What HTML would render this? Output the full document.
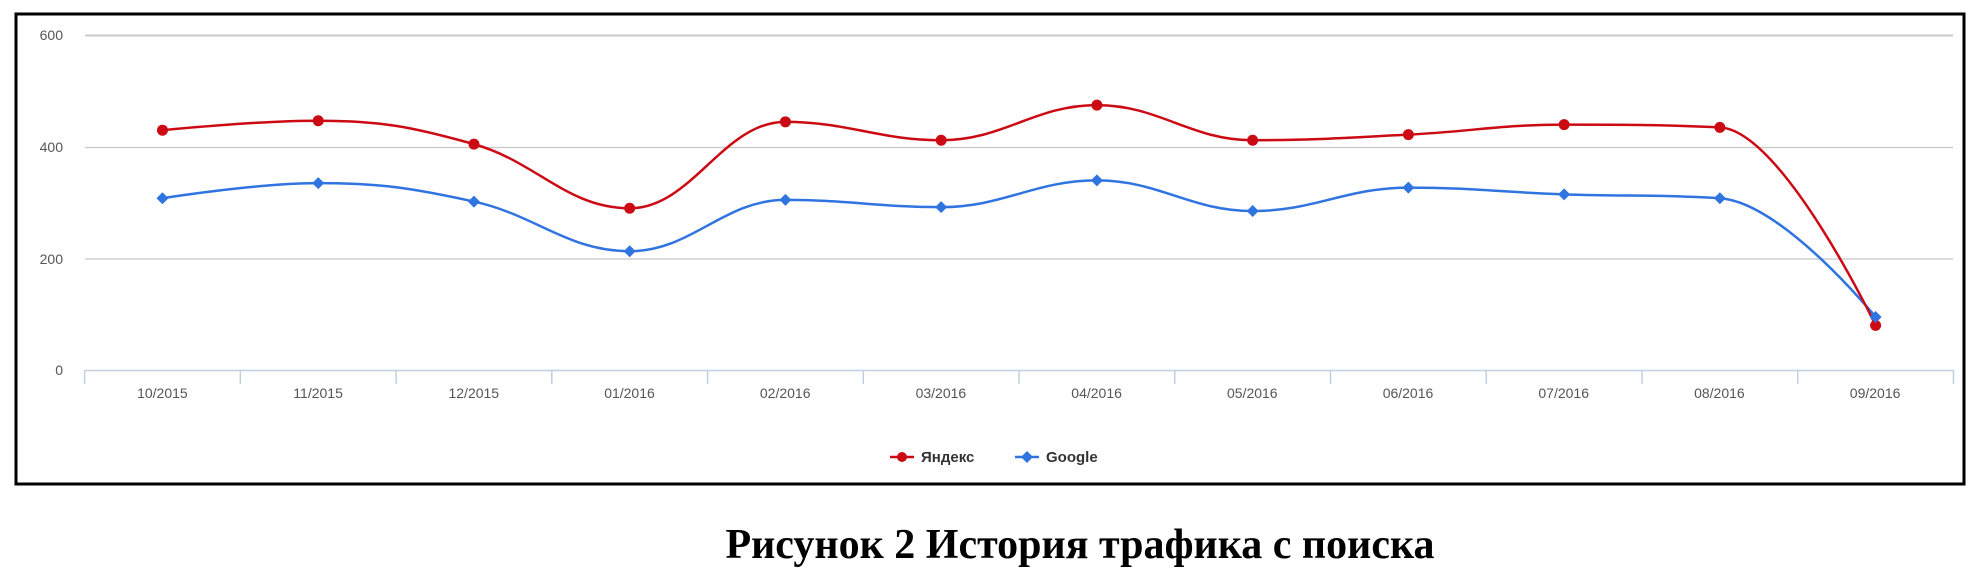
<!DOCTYPE html>
<html><head><meta charset="utf-8"><style>
html,body{margin:0;padding:0;background:#fff;width:1980px;height:575px;overflow:hidden}
svg{display:block}
</style></head><body>
<svg width="1980" height="575" xmlns="http://www.w3.org/2000/svg">
<rect x="16" y="14" width="1948" height="470" fill="#fff" stroke="#000" stroke-width="3"/>
<g stroke="#c8c8c8" stroke-width="1.3">
<line x1="85" y1="35.5" x2="1953" y2="35.5" stroke-width="2"/>
<line x1="85" y1="147.5" x2="1953" y2="147.5"/>
<line x1="85" y1="259" x2="1953" y2="259"/>
</g>
<line x1="85" y1="370.5" x2="1953" y2="370.5" stroke="#c0d0e0" stroke-width="1.5"/>
<g id="ticks" stroke="#c0d0e0" stroke-width="1.5"></g>
<g font-family="Liberation Sans, DejaVu Sans, sans-serif" font-size="14" fill="#555" text-anchor="end">
<text x="63" y="40">600</text><text x="63" y="152">400</text><text x="63" y="264">200</text><text x="63" y="375">0</text>
</g>
<g font-family="Liberation Sans, DejaVu Sans, sans-serif" font-size="14" fill="#555" text-anchor="middle" id="xl">
<text x="162.4" y="398">10/2015</text><text x="318.1" y="398">11/2015</text><text x="473.8" y="398">12/2015</text><text x="629.5" y="398">01/2016</text><text x="785.2" y="398">02/2016</text><text x="940.9" y="398">03/2016</text><text x="1096.6" y="398">04/2016</text><text x="1252.3" y="398">05/2016</text><text x="1408" y="398">06/2016</text><text x="1563.7" y="398">07/2016</text><text x="1719.4" y="398">08/2016</text><text x="1875.1" y="398">09/2016</text>
</g>
<path id="pg" fill="none" stroke="#2f74e0" stroke-width="2.5"/>
<path id="py" fill="none" stroke="#cc0a14" stroke-width="2.5"/>
<g id="mk"></g>
<g font-family="Liberation Sans, DejaVu Sans, sans-serif" font-size="15" font-weight="bold" fill="#333">
<line x1="890" y1="457" x2="914" y2="457" stroke="#cc0a14" stroke-width="2.5"/><circle cx="902" cy="457" r="5" fill="#cc0a14"/>
<text x="921" y="462">Яндекс</text>
<line x1="1015" y1="457" x2="1039" y2="457" stroke="#2f74e0" stroke-width="2.5"/><path d="M1027 451 L1033 457 L1027 463 L1021 457Z" fill="#2f74e0"/>
<text x="1046" y="462">Google</text>
</g>
<text x="1080" y="558" text-anchor="middle" font-family="Liberation Serif, serif" font-weight="bold" font-size="42" fill="#000">Рисунок 2 История трафика с поиска</text>
</svg>
<script>
var L=84.6,W=155.74,y0=370,k=0.5577;
var Y=[430,447,405,290,445,412,475,412,422,440,435,80],G=[308,335,302,213,305,292,340,285,327,315,308,95];
function pts(a){return a.map(function(v,i){return [L+W*(i+.5),y0-v*k]});}
function sp(p){var d="M"+p[0][0]+" "+p[0][1],s=1.5,t=s+1;
for(var i=0;i<p.length-1;i++){var a=p[i-1]||p[i],b=p[i],c=p[i+1],e=p[i+2]||c;
function ctl(pr,cu,nx){var lx=(s*cu[0]+pr[0])/t,ly=(s*cu[1]+pr[1])/t,rx=(s*cu[0]+nx[0])/t,ry=(s*cu[1]+nx[1])/t;
var cor=0;if(rx!==lx)cor=((ry-ly)*(rx-cu[0]))/(rx-lx)+cu[1]-ry;ly+=cor;ry+=cor;
if(ly>cu[1]&&ly>pr[1]){ly=Math.max(cu[1],pr[1]);ry=2*cu[1]-ly}else if(ly<cu[1]&&ly<pr[1]){ly=Math.min(cu[1],pr[1]);ry=2*cu[1]-ly}
if(ry>cu[1]&&ry>nx[1]){ry=Math.max(cu[1],nx[1]);ly=2*cu[1]-ry}else if(ry<cu[1]&&ry<nx[1]){ry=Math.min(cu[1],nx[1]);ly=2*cu[1]-ry}
return [lx,ly,rx,ry];}
var c1=(i==0)?[b[0],b[1],b[0],b[1]]:ctl(a,b,c),c2=(i==p.length-2)?[c[0],c[1]]:ctl(b,c,e);
d+=" C"+c1[2]+" "+c1[3]+" "+c2[0]+" "+c2[1]+" "+c[0]+" "+c[1];}
return d;}
var py=pts(Y),pg=pts(G);
document.getElementById("py").setAttribute("d",sp(py));
document.getElementById("pg").setAttribute("d",sp(pg));
var m="";py.forEach(function(p){m+='<circle cx="'+p[0]+'" cy="'+p[1]+'" r="5.5" fill="#cc0a14"/>';});
pg.forEach(function(p){m+='<path d="M'+p[0]+' '+(p[1]-6)+' L'+(p[0]+6)+' '+p[1]+' L'+p[0]+' '+(p[1]+6)+' L'+(p[0]-6)+' '+p[1]+'Z" fill="#2f74e0"/>';});
document.getElementById("mk").innerHTML=m;
var t="";for(var i=0;i<=12;i++){var x=L+W*i;t+='<line x1="'+x+'" y1="370" x2="'+x+'" y2="384"/>';}
document.getElementById("ticks").innerHTML=t;
</script>
</body></html>
